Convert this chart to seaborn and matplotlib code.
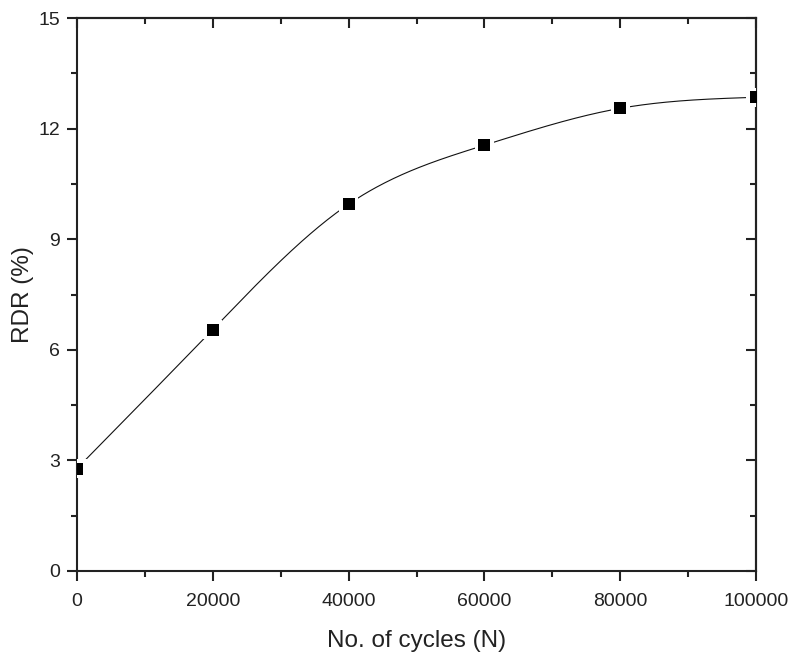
import numpy as np
import pandas as pd
import matplotlib
matplotlib.use("Agg")
import matplotlib.pyplot as plt
from matplotlib.ticker import MultipleLocator
import seaborn as sns

# Measured residual deformation ratio against loading cycles
cycles = [0, 20000, 40000, 60000, 80000, 100000]
rdr = [2.78, 6.55, 9.95, 11.55, 12.55, 12.85]

sns.set_style("ticks")
plt.rcParams["font.family"] = ["Liberation Sans", "DejaVu Sans"]


def natural_spline(x, y, n=400):
    """Natural cubic spline through (x, y), sampled for a smooth connecting line."""
    x = np.asarray(x, float)
    y = np.asarray(y, float)
    k = len(x)
    h = np.diff(x)
    A = np.zeros((k, k))
    b = np.zeros(k)
    A[0, 0] = A[-1, -1] = 1.0
    for i in range(1, k - 1):
        A[i, i - 1] = h[i - 1]
        A[i, i] = 2 * (h[i - 1] + h[i])
        A[i, i + 1] = h[i]
        b[i] = 6 * ((y[i + 1] - y[i]) / h[i] - (y[i] - y[i - 1]) / h[i - 1])
    M = np.linalg.solve(A, b)
    xs = np.linspace(x[0], x[-1], n)
    idx = np.clip(np.searchsorted(x, xs) - 1, 0, k - 2)
    x0, x1 = x[idx], x[idx + 1]
    hh = x1 - x0
    t0, t1 = x1 - xs, xs - x0
    ys = (M[idx] * t0**3 + M[idx + 1] * t1**3) / (6 * hh) \
        + (y[idx] / hh - M[idx] * hh / 6) * t0 \
        + (y[idx + 1] / hh - M[idx + 1] * hh / 6) * t1
    return xs, ys


points = pd.DataFrame({"cycles": cycles, "rdr": rdr})
sx, sy = natural_spline(cycles, rdr)
curve = pd.DataFrame({"cycles": sx, "rdr": sy})

fig = plt.figure(figsize=(7.91, 6.57), dpi=100)
ax = fig.add_axes([0.0973, 0.1309, 0.8585, 0.8417])

sns.lineplot(data=curve, x="cycles", y="rdr", ax=ax, color="#111111",
             linewidth=0.8, sort=False, zorder=2)
# white halo leaves a small gap in the line around each marker
sns.scatterplot(data=points, x="cycles", y="rdr", ax=ax, marker="s",
                s=190, color="white", edgecolor="none", linewidth=0, zorder=3)
sns.scatterplot(data=points, x="cycles", y="rdr", ax=ax, marker="s",
                s=66, color="black", edgecolor="black", linewidth=0, zorder=4)

ax.set_xlim(0, 100000)
ax.set_ylim(0, 15)
ax.xaxis.set_major_locator(MultipleLocator(20000))
ax.xaxis.set_minor_locator(MultipleLocator(10000))
ax.yaxis.set_major_locator(MultipleLocator(3))
ax.yaxis.set_minor_locator(MultipleLocator(1.5))

for side in ["left", "right", "top", "bottom"]:
    ax.spines[side].set_visible(True)
    ax.spines[side].set_linewidth(1.5)
    ax.spines[side].set_color("#222222")

ax.tick_params(which="major", direction="out", length=7, width=1.5,
               labelsize=14, pad=5, colors="#222222")
ax.tick_params(which="minor", direction="out", length=4, width=1.5,
               colors="#222222")
ax.tick_params(axis="x", which="major", pad=9)

# inward mirror ticks on top and right
top = ax.secondary_xaxis("top")
top.xaxis.set_major_locator(MultipleLocator(20000))
top.xaxis.set_minor_locator(MultipleLocator(10000))
top.tick_params(which="major", direction="in", length=7, width=1.5,
                labeltop=False, colors="#222222")
top.tick_params(which="minor", direction="in", length=4, width=1.5,
                colors="#222222")
top.spines["top"].set_linewidth(1.5)
right = ax.secondary_yaxis("right")
right.yaxis.set_major_locator(MultipleLocator(3))
right.yaxis.set_minor_locator(MultipleLocator(1.5))
right.tick_params(which="major", direction="in", length=7, width=1.5,
                  labelright=False, colors="#222222")
right.tick_params(which="minor", direction="in", length=4, width=1.5,
                  colors="#222222")
right.spines["right"].set_linewidth(1.5)

ax.set_xlabel("No. of cycles (N)", fontsize=17.5, labelpad=14, color="#222222")
ax.set_ylabel("RDR (%)", fontsize=17.5, labelpad=3, color="#222222")

fig.savefig("out.png", dpi=100, facecolor="white")
